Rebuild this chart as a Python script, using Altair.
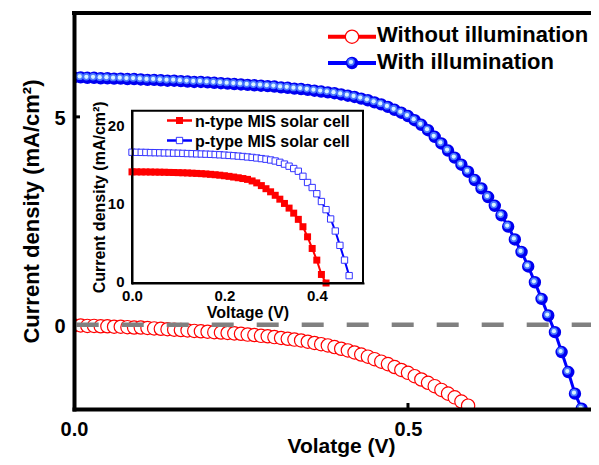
import altair as alt
import pandas as pd

FONT = "Liberation Sans"
V_STEP = 0.01  # voltage sweep step (V)

# ---- main panel: current density (mA/cm2) vs voltage, one value per 0.01 V ----
J_dark = [-0.02, -0.02, -0.03, -0.03, -0.04, -0.04, -0.05, -0.05, -0.06, -0.07,
          -0.07, -0.08, -0.09, -0.10, -0.11, -0.12, -0.13, -0.14, -0.15, -0.16,
          -0.17, -0.18, -0.19, -0.20, -0.21, -0.22, -0.24, -0.25, -0.27, -0.28,
          -0.30, -0.32, -0.34, -0.36, -0.38, -0.41, -0.44, -0.47, -0.50, -0.54,
          -0.58, -0.62, -0.67, -0.72, -0.77, -0.83, -0.89, -0.95, -1.02, -1.09,
          -1.16, -1.24, -1.32, -1.40, -1.48, -1.57, -1.66, -1.75, -1.85, -1.95]
J_light = [5.95, 5.95, 5.94, 5.94, 5.93, 5.93, 5.92, 5.92, 5.91, 5.91,
           5.90, 5.89, 5.89, 5.88, 5.87, 5.87, 5.86, 5.85, 5.84, 5.84,
           5.83, 5.82, 5.81, 5.80, 5.79, 5.78, 5.77, 5.76, 5.75, 5.74,
           5.73, 5.71, 5.70, 5.68, 5.67, 5.65, 5.63, 5.61, 5.59, 5.57,
           5.54, 5.51, 5.48, 5.44, 5.40, 5.35, 5.30, 5.24, 5.17, 5.10,
           5.02, 4.92, 4.81, 4.68, 4.52, 4.36, 4.19, 4.02, 3.85, 3.68,
           3.48, 3.28, 3.07, 2.86, 2.63, 2.36, 2.05, 1.75, 1.40, 1.02,
           0.62, 0.22, -0.18, -0.66, -1.14, -1.66, -2.02]

# ---- inset: n-type / p-type MIS solar cells ----
J_ntype = [14.32, 14.32, 14.31, 14.31, 14.30, 14.29, 14.28, 14.27, 14.25, 14.24,
           14.22, 14.20, 14.18, 14.15, 14.12, 14.09, 14.05, 14.00, 13.95, 13.89,
           13.82, 13.74, 13.65, 13.56, 13.46, 13.35, 13.15, 12.90, 12.55, 12.15,
           11.75, 11.30, 10.80, 10.25, 9.65, 9.00, 8.20, 7.25, 5.95, 4.45,
           2.95, 1.10, 0.00]
J_ptype = [16.85, 16.84, 16.83, 16.82, 16.80, 16.79, 16.78, 16.76, 16.75, 16.73,
           16.72, 16.70, 16.68, 16.66, 16.64, 16.62, 16.60, 16.58, 16.55, 16.52,
           16.48, 16.44, 16.40, 16.35, 16.30, 16.24, 16.18, 16.11, 16.03, 15.95,
           15.85, 15.72, 15.55, 15.32, 15.05, 14.75, 14.40, 13.75, 12.95, 12.30,
           11.50, 10.50, 9.45, 8.25, 6.70, 4.85, 2.95, 0.95]

main_legend = ["Without illumination", "With illumination"]
inset_legend = ["n-type MIS solar cell", "p-type MIS solar cell"]
main_ticks_x = [0.0, 0.5]
main_ticks_y = [0, 5]
inset_ticks_x = [0.0, 0.2, 0.4]
inset_ticks_y = [0, 10, 20]
X_MAX, Y_MIN, Y_MAX = 0.774, -2.03, 7.5


def curve(J):
    return pd.DataFrame({"V": [round(i * V_STEP, 2) for i in range(len(J))], "J": J})


dark = curve(J_dark)
light = curve(J_light)
ntype = curve(J_ntype)
ptype = curve(J_ptype)
one = pd.DataFrame({"k": [0]})

W, H = 517, 396

# ---------------- main panel ----------------
xs = alt.Scale(domain=[0, X_MAX], nice=False, zero=False)
ys = alt.Scale(domain=[Y_MIN, Y_MAX], nice=False, zero=False)
x_axis = alt.Axis(values=main_ticks_x, format=".1f", ticks=False, labelPadding=10,
                  labelFontSize=20, labelFlush=False, domainWidth=4, domainCap="square",
                  title="Volatge (V)", titleFontSize=21, titleX=267, titleY=43,
                  titleBaseline="alphabetic", titleAlign="center", zindex=1)
y_axis = alt.Axis(values=main_ticks_y, format="d", ticks=False, labelPadding=9,
                  labelFontSize=20, labelFlush=False, labelOffset=2, domainWidth=4,
                  domainCap="square", title="Current density (mA/cm²)", titleFontSize=22,
                  titleX=-36, titleY=198, titleBaseline="alphabetic", titleAlign="center",
                  zindex=1)
X = alt.X("V:Q", scale=xs, axis=x_axis)
Y = alt.Y("J:Q", scale=ys, axis=y_axis)

red_line = alt.Chart(dark).mark_line(color="#ff0000", strokeWidth=2, clip=True).encode(x=X, y=Y)
red_pts = alt.Chart(dark).mark_point(shape="circle", filled=True, fill="white", stroke="#ff0000",
                                     strokeWidth=1.2, size=177, opacity=1, clip=True).encode(x=X, y=Y)
zero_line = alt.Chart(one).mark_rule(color="#808080", strokeWidth=4.5, strokeDash=[22, 23],
                                     strokeDashOffset=42.3, strokeCap="butt").encode(
    y=alt.YDatum(0, scale=ys, axis=y_axis), x=alt.value(0), x2=alt.value(W))
blue_line = alt.Chart(light).mark_line(color="#0000ff", strokeWidth=3, clip=True).encode(x=X, y=Y)
blue_pts = alt.Chart(light).mark_circle(color="#0000f0", size=154, opacity=1, clip=True).encode(x=X, y=Y)
blue_mid = alt.Chart(light).mark_circle(color="#4a78ff", size=55, opacity=1, clip=True,
                                        xOffset=-1, yOffset=-1).encode(x=X, y=Y)
blue_hi = alt.Chart(light).mark_circle(color="#d8f4ff", size=18, opacity=1, clip=True,
                                       xOffset=-1, yOffset=-1).encode(x=X, y=Y)
# frame line along the top of the plot
top_border = alt.Chart(one).mark_rect(color="black").encode(
    x=alt.value(-2), x2=alt.value(W), y=alt.value(-2), y2=alt.value(2))
tick_x = alt.Chart(one).mark_rect(color="black", width=3).encode(
    x=alt.XDatum(main_ticks_x[1], scale=xs, axis=x_axis), y=alt.value(H - 6), y2=alt.value(H))
tick_y = alt.Chart(one).mark_rect(color="black", height=3).encode(
    y=alt.YDatum(main_ticks_y[1], scale=ys, axis=y_axis), x=alt.value(0), x2=alt.value(6))

LEG_X = 254  # left end of main legend line (plot coords)
legend_layers = []
for i, (lab, col) in enumerate(zip(main_legend, ["#ff0000", "#0000ff"])):
    ly = 23.7 + 26.3 * i
    legend_layers.append(alt.Chart(one).mark_rule(color=col, strokeWidth=4).encode(
        x=alt.value(LEG_X), x2=alt.value(LEG_X + 48), y=alt.value(ly)))
    if i == 0:
        legend_layers.append(alt.Chart(one).mark_point(shape="circle", filled=True, fill="white",
                                                       stroke=col, strokeWidth=1.2, size=177,
                                                       opacity=1).encode(x=alt.value(LEG_X + 24), y=alt.value(ly)))
    else:
        legend_layers.append(alt.Chart(one).mark_circle(color="#0000f0", size=154, opacity=1).encode(
            x=alt.value(LEG_X + 24), y=alt.value(ly)))
        legend_layers.append(alt.Chart(one).mark_circle(color="#4a78ff", size=55, opacity=1).encode(
            x=alt.value(LEG_X + 23), y=alt.value(ly - 1)))
        legend_layers.append(alt.Chart(one).mark_circle(color="#d8f4ff", size=18, opacity=1).encode(
            x=alt.value(LEG_X + 23), y=alt.value(ly - 1)))
    legend_layers.append(alt.Chart(pd.DataFrame({"t": [lab]})).mark_text(
        align="left", baseline="alphabetic", font=FONT, fontSize=22, fontWeight="bold",
        color="black").encode(x=alt.value(LEG_X + 49), y=alt.value(ly + 5.5), text="t:N"))

main = alt.layer(red_line, red_pts, zero_line, blue_line, blue_pts, blue_mid, blue_hi,
                 top_border, tick_x, tick_y, *legend_layers)

# ---------------- inset ----------------
xi = alt.Scale(domain=[0, 0.5], range=[58, 289], nice=False, zero=False)
yi = alt.Scale(domain=[0, 22.2], range=[270, 97.7], nice=False, zero=False)
xi_axis = alt.Axis(orient="bottom", offset=-126, values=inset_ticks_x, format=".1f", ticks=False,
                   labelPadding=5, labelFontSize=15, labelFlush=False, domainWidth=2,
                   domainCap="square", title="Voltage (V)", titleFontSize=16, titleY=34,
                   titleBaseline="alphabetic", zindex=1)
yi_axis = alt.Axis(orient="left", offset=-58, values=inset_ticks_y, format="d", ticks=False,
                   labelPadding=8, labelFontSize=15, labelFlush=False, labelOffset=-2,
                   domainWidth=2, domainCap="square", title="Current density (mA/cm²)",
                   titleFontSize=16, titleX=-28, titleBaseline="alphabetic", zindex=1)
XI = alt.X("V:Q", scale=xi, axis=xi_axis)
YI = alt.Y("J:Q", scale=yi, axis=yi_axis)

frame = alt.Chart(one).mark_rect(fill="white", stroke="black", strokeWidth=2).encode(
    x=alt.value(58), x2=alt.value(289), y=alt.value(97.7), y2=alt.value(270))
p_line = alt.Chart(ptype).mark_line(color="#0000ff", strokeWidth=2).encode(x=XI, y=YI)
p_pts = alt.Chart(ptype).mark_point(shape="square", filled=True, fill="white", stroke="#3535ff",
                                    strokeWidth=1, size=40, opacity=1).encode(x=XI, y=YI)
n_line = alt.Chart(ntype).mark_line(color="#ff0000", strokeWidth=2).encode(x=XI, y=YI)
n_pts = alt.Chart(ntype).mark_point(shape="square", filled=True, color="#ff0000",
                                    size=49, opacity=1).encode(x=XI, y=YI)

inset_leg = []
for i, (lab, col) in enumerate(zip(inset_legend, ["#ff0000", "#0000ff"])):
    ly = 107.5 + 20 * i
    inset_leg.append(alt.Chart(one).mark_rule(color=col, strokeWidth=2.5).encode(
        x=alt.value(93), x2=alt.value(118), y=alt.value(ly)))
    if i == 0:
        inset_leg.append(alt.Chart(one).mark_point(shape="square", filled=True, color=col, size=49,
                                                   opacity=1).encode(x=alt.value(105.5), y=alt.value(ly)))
    else:
        inset_leg.append(alt.Chart(one).mark_point(shape="square", filled=True, fill="white",
                                                   stroke="#3535ff", strokeWidth=1, size=40,
                                                   opacity=1).encode(x=alt.value(105.5), y=alt.value(ly)))
    inset_leg.append(alt.Chart(pd.DataFrame({"t": [lab]})).mark_text(
        align="left", baseline="alphabetic", font=FONT, fontSize=16, fontWeight="bold",
        color="black").encode(x=alt.value(121), y=alt.value(ly + 6), text="t:N"))

inset = alt.layer(frame, p_line, p_pts, n_line, n_pts, *inset_leg)

chart = alt.layer(main, inset).resolve_scale(x="independent", y="independent").properties(
    width=W, height=H,
    autosize=alt.AutoSizeParams(type="none"),
    padding={"left": 66, "top": 5, "right": 0, "bottom": 48},
).configure_view(stroke=None).configure_axis(
    labelFont=FONT, titleFont=FONT, labelFontWeight="bold", titleFontWeight="bold",
    labelColor="black", titleColor="black", domainColor="black", grid=False)

chart.save("out.html", embed_options={"renderer": "svg", "actions": False})
